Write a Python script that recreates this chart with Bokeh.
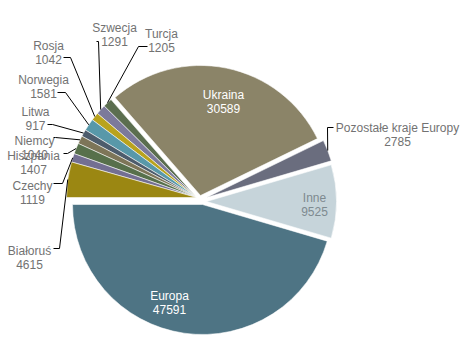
import math
from bokeh.plotting import figure
from bokeh.models import Range1d, ColumnDataSource
from bokeh.core.properties import value
from bokeh.embed import file_html
from bokeh.resources import INLINE

W, H = 465, 356

# ---- data ----
categories = ["Europa", "Inne", "Pozostałe kraje Europy", "Ukraina", "Turcja",
              "Szwecja", "Rosja", "Norwegia", "Litwa", "Niemcy", "Hiszpania",
              "Czechy", "Białoruś"]
values = [47591, 9525, 2785, 30589, 1205, 1291, 1042, 1581, 917, 1040, 1407,
          1119, 4615]

# ---- style ----
colors = ["#4e7484", "#c6d4da", "#6a6d7e", "#8b8468", "#5b6e4f", "#7c7a9b",
          "#b9a31e", "#5898a9", "#4d5c6c", "#7d7558", "#57704b", "#736f92",
          "#9b8712"]
# slice centres (screen px) - explode offsets
base = (196, 197)
offsets = {"Europa": (6, 7), "Inne": (10, 4), "Pozostałe kraje Europy": (10, 0),
           "Ukraina": (4, -2)}
R = 130

# label layout: (x, baseline of first line) in screen px, colour, leader elbow points
labels = {
    "Europa": (169, 295, "white", None),
    "Inne": (314, 197, "#7e8a90", None),
    "Ukraina": (223, 94, "white", None),
    "Pozostałe kraje Europy": (397, 127, "#727272", [(333, 127), (327, 127)]),
    "Turcja": (161, 33, "#727272", [(147, 46), (138, 46)]),
    "Szwecja": (114, 27, "#727272", [(96, 41), (98, 41)]),
    "Rosja": (48, 45, "#727272", [(63, 57), (70, 57)]),
    "Norwegia": (43, 79, "#727272", [(57, 92), (65, 92)]),
    "Litwa": (35, 111, "#727272", [(47, 124), (52, 124)]),
    "Niemcy": (34, 140, "#727272", [(53, 137), (55, 137)]),
    "Hiszpania": (33, 155, "#727272", [(63, 153), (67, 153)]),
    "Czechy": (32, 185, "#727272", [(53, 183), (62, 183)]),
    "Białoruś": (29, 250, "#727272", [(53, 248), (59, 248)]),
}

def Y(sy):
    return H - sy

total = sum(values)
xs, ys, starts, ends, mids = [], [], [], [], []
ang = math.pi
for c, v in zip(categories, values):
    a0 = ang
    a1 = ang + v / total * 2 * math.pi
    ang = a1
    dx, dy = offsets.get(c, (0, 0))
    xs.append(base[0] + dx)
    ys.append(Y(base[1] + dy))
    starts.append(a0)
    ends.append(a1)
    mids.append((a0 + a1) / 2)

p = figure(width=W, height=H, output_backend="svg", toolbar_location=None,
           x_range=Range1d(0, W), y_range=Range1d(0, H), min_border=0)
p.axis.visible = False
p.grid.visible = False
p.outline_line_color = None
p.background_fill_color = "white"
p.border_fill_color = "white"

src = ColumnDataSource(dict(x=xs, y=ys, s=starts, e=ends, c=colors))
p.wedge(x="x", y="y", radius=R, radius_units="screen", start_angle="s",
        end_angle="e", fill_color="c", line_color="white", line_width=0.7,
        line_alpha=0.8, source=src)

# leader lines
for i, c in enumerate(categories):
    lx, lb, col, elbow = labels[c]
    if elbow is None:
        continue
    px = xs[i] + R * math.cos(mids[i])
    py = ys[i] + R * math.sin(mids[i])
    lxs = [e[0] for e in elbow] + [px]
    lys = [Y(e[1]) for e in elbow] + [py]
    p.line(lxs, lys, line_color="black", line_width=1)

# texts
nx, ny, vx, vy, nt, vt, tc = [], [], [], [], [], [], []
for c, v in zip(categories, values):
    lx, lb, col, elbow = labels[c]
    nx.append(lx); ny.append(Y(lb)); nt.append(c)
    vx.append(lx); vy.append(Y(lb + 13.5)); vt.append(str(v))
    tc.append(col)
p.text(x=nx, y=ny, text=nt, text_color=tc, text_align="center",
       text_baseline="alphabetic", text_font=value("Liberation Sans"),
       text_font_size="12px")
p.text(x=vx, y=vy, text=vt, text_color=tc, text_align="center",
       text_baseline="alphabetic", text_font=value("Liberation Sans"),
       text_font_size="12px")

open("out.html", "w").write(file_html(p, INLINE))
